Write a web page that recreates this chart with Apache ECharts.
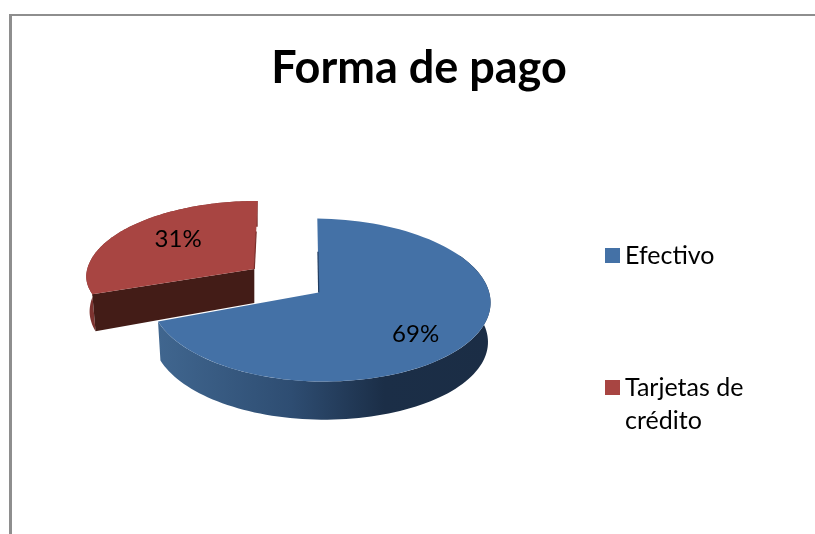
<!DOCTYPE html>
<html>
<head>
<meta charset="utf-8">
<style>html,body{margin:0;padding:0;background:#fff}#c{width:815px;height:534px}</style>
<script src="https://cdn.jsdelivr.net/npm/echarts@6/dist/echarts.min.js"></script>
</head>
<body>
<div id="c"></div>
<script>
const titleText = 'Forma de pago';
const categories = ['Efectivo', 'Tarjetas de crédito'];
const values = [69, 31];
const legendLabels = ['Efectivo', 'Tarjetas de\ncrédito'];

const FONT = 'Lato, "Open Sans", sans-serif';
const total = values.reduce((a, b) => a + b, 0);
const PERSPECTIVE = 0.092;

const sliceStyle = [
  { apex: [318.7, 292.5], rx: 171, rxLeft: 167.5, ry: 80.8, ryFront: 80.8, skew: -1.4, tilt: 2, depth: 39.5, lower: 0.985, lowerY: 0.985,
    top: '#4471a6', edge: '#203c60',
    wall: { type: 'linear', x: 0, y: 0, x2: 1, y2: 0, colorStops: [
      { offset: 0, color: '#40668f' }, { offset: 0.4, color: '#2e4d72' },
      { offset: 0.68, color: '#1b2e47' }, { offset: 1, color: '#1b2d45' } ] },
    labelR: 0.65, labelDy: 11, wallFrom: 60 },
  { apex: [254.3, 269], rx: 167, rxLeft: 167, ry: 74.3, ryFront: 66, skew: 3.4, tilt: 0, depth: 34, lower: 0.98, lowerY: 1.12,
    top: '#a84542', edge: '#7a2f2c', wall: '#7d3330', inner: '#431c17',
    labelR: 0.58, labelDy: -7, wallFrom: null }
];

function project(s, deg, scale, depth, scaleY) {
  const t = deg * Math.PI / 180, u = Math.sin(t), v = Math.cos(t);
  const k = 1 / (1 + PERSPECTIVE * v);
  const rx = u < 0 ? s.rxLeft : s.rx, ry = v < 0 ? s.ryFront : s.ry;
  return [
    s.apex[0] + rx * u * k * scale + s.skew * v,
    s.apex[1] + depth - ry * v * k * scaleY + s.tilt * u
  ];
}
function arc(s, a, b, scale, depth, scaleY) {
  const pts = [], n = 96;
  for (let i = 0; i <= n; i++) pts.push(project(s, a + (b - a) * i / n, scale, depth, scaleY));
  return pts;
}

function makeRender(index) {
  return function () {
    const s = sliceStyle[index];
    const before = values.slice(0, index).reduce((a, b) => a + b, 0);
    const a = before / total * 360, b = (before + values[index]) / total * 360;
    const children = [];
    const lowerApex = [s.apex[0], s.apex[1] + s.depth];
    const wa = s.wallFrom == null ? a : Math.max(a, s.wallFrom);
    children.push({ type: 'polygon',
      shape: { points: arc(s, wa, b, 1, 0, 1).concat(arc(s, wa, b, s.lower, s.depth, s.lowerY).reverse()) },
      style: { fill: s.wall } });
    if (s.inner) {
      children.push({ type: 'polygon',
        shape: { points: [s.apex, project(s, a, 1, 0, 1), project(s, a, s.lower, s.depth, s.lowerY), lowerApex] },
        style: { fill: s.inner } });
    }
    children.push({ type: 'polygon',
      shape: { points: [s.apex].concat(arc(s, a, b, 1, 0, 1)) },
      style: { fill: s.top } });
    // dark sliver along the inner part of the straight edge
    const edgeEnd = project(s, index === 0 ? a : b, 1, 0, 1);
    const edgeStart = [s.apex[0] + (edgeEnd[0] - s.apex[0]) * 0.55, s.apex[1] + (edgeEnd[1] - s.apex[1]) * 0.55];
    children.push({ type: 'polyline',
      shape: { points: [s.apex, edgeStart] },
      style: { stroke: s.edge, lineWidth: 1.2, fill: 'none' } });
    const mid = (a + b) / 2, t = mid * Math.PI / 180;
    const k = 1 / (1 + PERSPECTIVE * Math.cos(t));
    children.push({ type: 'text',
      style: {
        x: s.apex[0] + s.rx * Math.sin(t) * k * s.labelR,
        y: s.apex[1] - s.ry * Math.cos(t) * k * s.labelR + s.labelDy,
        text: values[index] + '%', fill: '#000', font: '24px ' + FONT,
        align: 'center', verticalAlign: 'middle'
      } });
    return { type: 'group', children };
  };
}

const chart = echarts.init(document.getElementById('c'), null, { renderer: 'canvas' });
chart.setOption({
  animation: false,
  backgroundColor: '#ffffff',
  title: { text: titleText, left: 414, top: 41, textAlign: 'center',
    textStyle: { fontFamily: FONT, fontSize: 45, fontWeight: 'bold', color: '#000' } },
  legend: [
    { data: [categories[0]], left: 600, top: 234, orient: 'vertical', selectedMode: false,
      icon: 'rect', itemWidth: 15, itemHeight: 15, itemGap: 0,
      formatter: () => legendLabels[0],
      textStyle: { fontFamily: FONT, fontSize: 25, color: '#000', lineHeight: 33 } },
    { data: [categories[1]], left: 600, top: 366, orient: 'vertical', selectedMode: false,
      icon: 'path://M0,0H15V15H0Z M0,48H0Z', itemWidth: 15, itemHeight: 48, itemGap: 0,
      formatter: () => legendLabels[1],
      textStyle: { fontFamily: FONT, fontSize: 25, color: '#000', lineHeight: 33 } }
  ],
  graphic: [
    { type: 'rect', silent: true, shape: { x: 9, y: 14, width: 3, height: 520 }, style: { fill: '#8e8e8e' } },
    { type: 'rect', silent: true, shape: { x: 9, y: 14, width: 806, height: 2 }, style: { fill: '#8e8e8e' } }
  ],
  series: [
    { type: 'custom', name: categories[0], coordinateSystem: 'none', z: 3, silent: true,
      itemStyle: { color: sliceStyle[0].top }, data: [[values[0]]], renderItem: makeRender(0) },
    { type: 'custom', name: categories[1], coordinateSystem: 'none', z: 2, silent: true,
      itemStyle: { color: sliceStyle[1].top }, data: [[values[1]]], renderItem: makeRender(1) }
  ]
});
</script>
</body>
</html>
